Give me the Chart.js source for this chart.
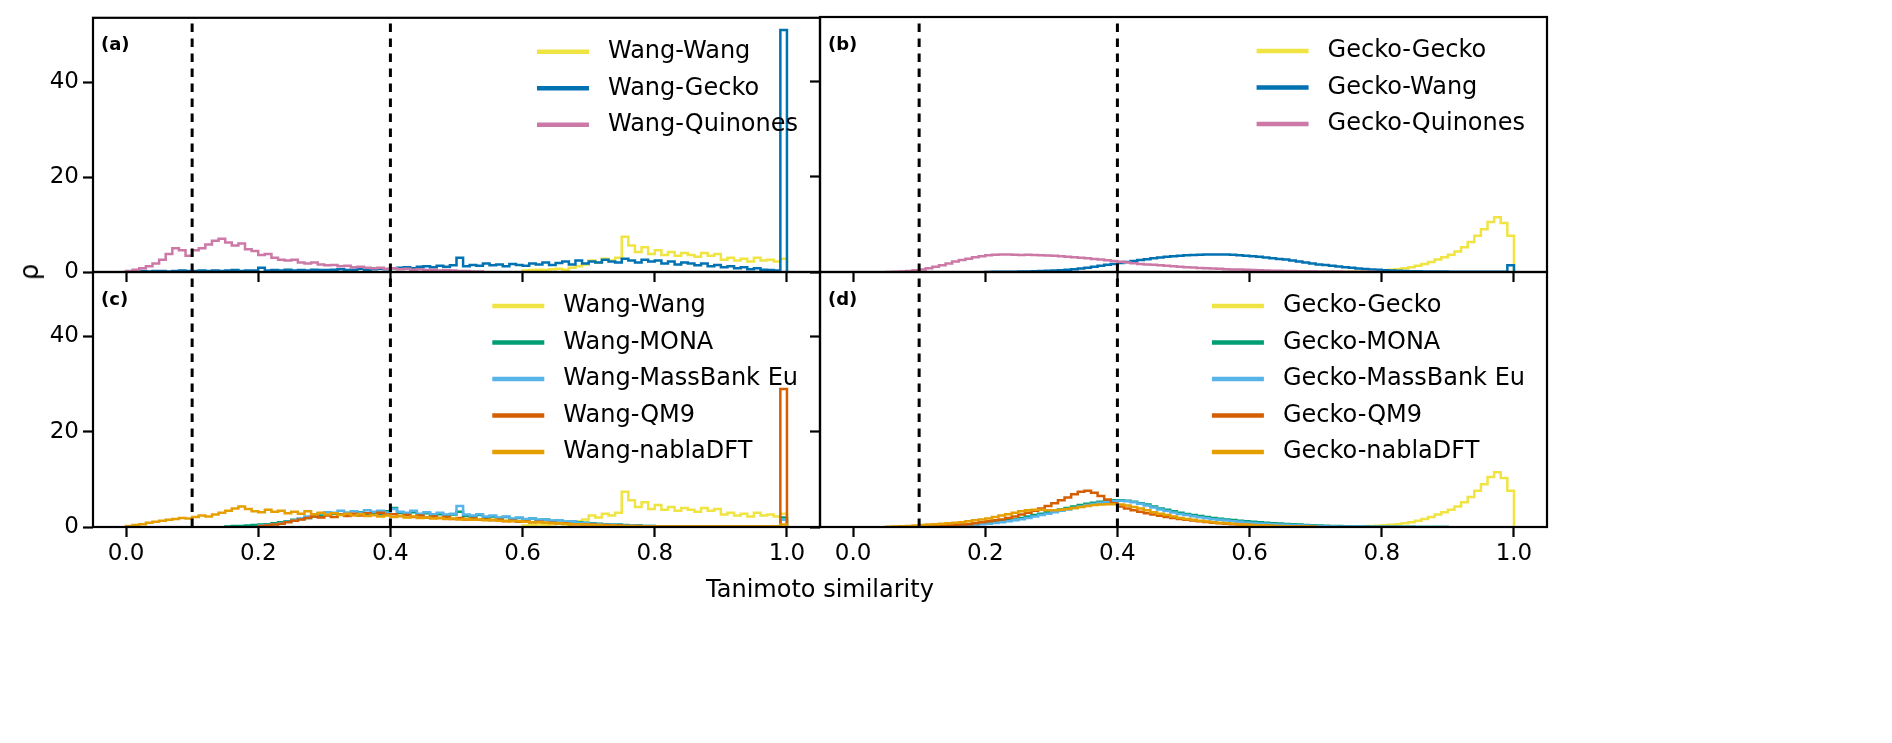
<!DOCTYPE html>
<html>
<head>
<meta charset="utf-8">
<script src="https://cdn.jsdelivr.net/npm/chart.js@4.4.1/dist/chart.umd.min.js"></script>
<style>
  body { margin: 0; background: #fff; }
  #wrap { position: relative; width: 1892px; height: 743px; overflow: hidden; }
  canvas { position: absolute; left: 0; top: 0; }
  .lbl { position: absolute; font-family: 'DejaVu Sans'; color: #000; white-space: nowrap; }
  #xlab { left: 820px; top: 589px; font-size: 24px; transform: translate(-50%, -50%); }
  #ylab { left: 29px; top: 272px; font-size: 26px; transform: translate(-50%, -50%) rotate(-90deg); }
</style>
</head>
<body>
<div id="wrap">
  <canvas id="pa" width="1892" height="743"></canvas>
  <canvas id="pb" width="1892" height="743"></canvas>
  <canvas id="pc" width="1892" height="743"></canvas>
  <canvas id="pd" width="1892" height="743"></canvas>
  <div class="lbl" id="xlab">Tanimoto similarity</div>
  <div class="lbl" id="ylab">ρ</div>
</div>
<script>
// histogram bin width and axis ticks
const BIN = 0.01;
const X_TICKS = [0, 0.2, 0.4, 0.6, 0.8, 1.0];
const Y_TICKS = [0, 20, 40];
const Y_MAX = 53.55;
const GUIDES = [0.1, 0.4];

// bin heights (rho), each list starts at the bin edge given by *_START
const WANG_WANG_START = 0.60;
const wangWang = [
  0.3, 0.4, 0.5, 0.4, 0.6, 0.7, 0.5, 0.9, 1.2, 1.6,
  2.4, 2.0, 2.8, 2.4, 3.0, 7.4, 5.6, 4.2, 5.2, 3.8,
  4.6, 3.6, 4.2, 3.4, 4.0, 3.6, 3.2, 4.0, 3.4, 3.8,
  2.6, 3.0, 2.4, 2.8, 2.2, 3.0, 2.4, 2.6, 2.2, 2.8
];
const WANG_GECKO_START = 0.00;
const wangGecko = [
  0.1, 0.1, 0.2, 0.1, 0.2, 0.2, 0.1, 0.2, 0.3, 0.2,
  0.2, 0.3, 0.2, 0.3, 0.2, 0.3, 0.4, 0.2, 0.3, 0.3,
  0.9, 0.3, 0.4, 0.3, 0.5, 0.3, 0.4, 0.3, 0.5, 0.4,
  0.4, 0.5, 0.6, 0.4, 0.5, 0.7, 0.5, 0.6, 0.7, 0.6,
  0.8, 0.9, 1.0, 0.8, 1.1, 1.2, 1.0, 1.3, 1.1, 1.4,
  3.0, 1.2, 1.5, 1.3, 1.8, 1.4, 1.6, 1.2, 1.7, 1.5,
  1.3, 1.8, 1.6, 2.0, 1.5, 1.9, 2.2, 1.6, 2.4, 1.8,
  2.2, 2.0, 2.6, 2.2, 2.0, 2.8, 2.4, 2.0, 2.6, 2.2,
  2.4, 1.8, 2.2, 1.6, 2.0, 1.8, 1.4, 1.8, 1.2, 1.5,
  1.0, 1.2, 0.8, 1.0, 0.6, 0.8, 0.5, 0.4, 0.3, 51.0
];
const WANG_QUINONES_START = 0.00;
const wangQuinones = [
  0.2, 0.5, 0.8, 1.2, 1.8, 2.6, 3.8, 5.0, 4.6, 3.4,
  4.6, 5.0, 5.8, 6.6, 7.0, 6.2, 5.6, 6.0, 4.8, 4.4,
  3.6, 3.8, 3.0, 2.6, 2.4, 2.6, 2.0, 1.8, 2.0, 1.6,
  1.4, 1.5, 1.2, 1.3, 1.0, 1.1, 0.9, 0.8, 0.9, 0.7,
  0.8, 0.6, 0.7, 0.5, 0.6, 0.4, 0.5, 0.3, 0.4, 0.3,
  0.2, 0.2, 0.1, 0.1
];

const GECKO_GECKO_START = 0.70;
const geckoGecko = [
  0.02, 0.03, 0.04, 0.05, 0.07, 0.09, 0.12, 0.15, 0.2, 0.26,
  0.35, 0.45, 0.6, 0.8, 1.0, 1.3, 1.7, 2.1, 2.6, 3.1,
  3.6, 4.3, 5.2, 6.3, 7.6, 9.0, 10.5, 11.5, 10.3, 7.6
];
const GECKO_WANG_START = 0.20;
const geckoWang = [
  0.02, 0.03, 0.04, 0.05, 0.07, 0.09, 0.12, 0.15, 0.2, 0.25,
  0.3, 0.38, 0.48, 0.6, 0.75, 0.9, 1.1, 1.3, 1.5, 1.7,
  1.9, 2.1, 2.3, 2.5, 2.7, 2.9, 3.05, 3.2, 3.3, 3.4,
  3.5, 3.55, 3.6, 3.65, 3.7, 3.7, 3.65, 3.6, 3.5, 3.4,
  3.3, 3.2, 3.05, 2.9, 2.75, 2.6, 2.4, 2.2, 2.0, 1.8,
  1.6, 1.45, 1.3, 1.15, 1.0, 0.88, 0.76, 0.65, 0.55, 0.46,
  0.38, 0.32, 0.26, 0.22, 0.18, 0.15, 0.12, 0.1, 0.09, 0.08,
  0.07, 0.06, 0.05, 0.05, 0.04, 0.04, 0.03, 0.03, 0.03, 1.4
];
const GECKO_QUINONES_START = 0.05;
const geckoQuinones = [
  0.02, 0.05, 0.1, 0.2, 0.35,
  0.55, 0.8, 1.1, 1.4, 1.8, 2.2, 2.5, 2.8, 3.1, 3.3,
  3.5, 3.6, 3.7, 3.65, 3.6, 3.55, 3.6, 3.55, 3.5, 3.45,
  3.4, 3.3, 3.2, 3.1, 3.0, 2.9, 2.75, 2.6, 2.45, 2.3,
  2.15, 2.0, 1.85, 1.7, 1.6, 1.5, 1.4, 1.3, 1.2, 1.1,
  1.0, 0.92, 0.85, 0.78, 0.72, 0.66, 0.6, 0.55, 0.5, 0.45,
  0.4, 0.36, 0.32, 0.28, 0.25, 0.22, 0.2, 0.18, 0.16, 0.14,
  0.12, 0.1, 0.09, 0.08, 0.07, 0.06, 0.05, 0.04, 0.03, 0.02
];

const WANG_MONA_START = 0.15;
const wangMona = [
  0.1, 0.2, 0.2, 0.3, 0.4,
  0.5, 0.6, 0.8, 1.0, 1.2, 1.5, 1.7, 1.9, 2.2, 2.4,
  2.5, 2.8, 2.6, 3.0, 2.7, 3.1, 2.8, 3.0, 2.7, 3.3,
  4.0, 3.0, 2.8, 3.1, 2.6, 2.9, 2.5, 2.7, 2.3, 2.6,
  3.2, 2.3, 2.2, 2.5, 2.0, 2.2, 1.9, 2.1, 1.7, 1.9,
  1.6, 1.8, 1.5, 1.6, 1.3, 1.4, 1.1, 1.2, 1.0, 0.9,
  0.8, 0.7, 0.6, 0.5, 0.5, 0.4, 0.3, 0.3, 0.2, 0.2,
  0.1, 0.1, 0.1, 0.1, 0.1, 0.1, 0.1, 0.1, 0.1, 0.1,
  0.1, 0.1, 0.1, 0.1, 0.1, 0.1, 0.1, 0.1, 0.1, 2.0
];
const WANG_MASSBANK_START = 0.20;
const wangMassbank = [
  0.3, 0.4, 0.6, 0.8, 1.1, 1.4, 1.8, 2.2, 2.6, 2.9,
  3.1, 3.0, 3.4, 2.9, 3.3, 3.0, 3.5, 3.2, 3.4, 3.1,
  3.8, 3.2, 3.0, 3.4, 2.8, 3.1, 2.7, 3.0, 2.6, 2.8,
  4.4, 2.6, 2.4, 2.7, 2.2, 2.4, 2.0, 2.2, 1.8, 2.0,
  1.7, 1.8, 1.5, 1.6, 1.3, 1.4, 1.1, 1.2, 0.9, 0.8,
  0.7, 0.6, 0.5, 0.5, 0.4, 0.3, 0.3, 0.2, 0.2, 0.2,
  0.1, 0.1, 0.1, 0.1, 0.1, 0.1, 0.1, 0.1, 0.1, 0.1,
  0.1, 0.1, 0.1, 0.1, 0.1, 0.1, 0.1, 0.1, 0.1, 1.5
];
const WANG_QM9_START = 0.20;
const wangQm9 = [
  0.2, 0.3, 0.5, 0.7, 1.0, 1.3, 1.6, 1.9, 2.2, 2.0,
  2.4, 2.1, 2.6, 2.3, 2.8, 2.4, 2.9, 2.5, 3.0, 2.6,
  2.7, 2.3, 2.5, 2.1, 2.4, 2.0, 2.2, 1.9, 2.1, 1.7,
  1.9, 1.6, 1.8, 1.5, 1.6, 1.4, 1.5, 1.2, 1.3, 1.1,
  1.2, 1.0, 1.1, 0.9, 0.9, 0.8, 0.8, 0.6, 0.6, 0.5,
  0.5, 0.4, 0.4, 0.3, 0.3, 0.2, 0.2, 0.2, 0.1, 0.1,
  0.1, 0.1, 0.1, 0.1, 0.1, 0.1, 0.1, 0.1, 0.1, 0.1,
  0.1, 0.1, 0.1, 0.1, 0.1, 0.1, 0.1, 0.1, 0.1, 29.0
];
const WANG_NABLA_START = 0.00;
const wangNabla = [
  0.2, 0.4, 0.6, 0.9, 1.1, 1.3, 1.5, 1.7, 1.9, 1.8,
  2.1, 2.4, 2.2, 2.6, 3.0, 3.4, 3.9, 4.3, 3.8, 3.3,
  3.1, 3.6, 3.2, 3.4, 2.9, 3.2, 2.8, 3.3, 2.7, 3.0,
  2.6, 2.9, 2.5, 2.8, 2.4, 2.7, 2.3, 2.5, 2.2, 2.4,
  2.1, 2.3, 2.0, 2.2, 1.9, 2.0, 1.8, 1.9, 1.7, 1.8,
  1.6, 1.7, 1.5, 1.6, 1.4, 1.5, 1.3, 1.3, 1.2, 1.2,
  1.1, 1.0, 1.0, 0.9, 0.8, 0.8, 0.7, 0.6, 0.6, 0.5,
  0.4, 0.4, 0.3, 0.3, 0.2, 0.2, 0.2, 0.1, 0.1, 0.1,
  0.1, 0.1, 0.1, 0.1, 0.1, 0.1, 0.1, 0.1, 0.1, 0.1,
  0.1, 0.1, 0.1, 0.1, 0.1, 0.1, 0.1, 0.1, 0.1, 0.5
];

const GECKO_MONA_START = 0.10;
const geckoMona = [
  0.05, 0.1, 0.15, 0.2, 0.25, 0.3, 0.4, 0.5, 0.6, 0.7,
  0.85, 1.0, 1.2, 1.4, 1.6, 1.9, 2.2, 2.5, 2.8, 3.1,
  3.4, 3.7, 4.0, 4.3, 4.6, 4.9, 5.1, 5.3, 5.5, 5.6,
  5.6, 5.5, 5.3, 5.0, 4.7, 4.3, 3.9, 3.6, 3.3, 3.0,
  2.75, 2.5, 2.3, 2.1, 1.9, 1.75, 1.6, 1.45, 1.3, 1.2,
  1.1, 1.0, 0.9, 0.8, 0.72, 0.64, 0.56, 0.5, 0.44, 0.38,
  0.32, 0.27, 0.23, 0.19, 0.16, 0.13, 0.11, 0.09, 0.07, 0.06,
  0.05, 0.04, 0.04, 0.03, 0.03, 0.02, 0.02, 0.02, 0.01, 0.01
];
const GECKO_MASSBANK_START = 0.10;
const geckoMassbank = [
  0.05, 0.08, 0.12, 0.16, 0.2, 0.25, 0.32, 0.4, 0.5, 0.6,
  0.7, 0.85, 1.0, 1.2, 1.4, 1.65, 1.9, 2.2, 2.5, 2.8,
  3.1, 3.4, 3.7, 4.0, 4.3, 4.6, 4.85, 5.1, 5.3, 5.45,
  5.5, 5.4, 5.2, 4.9, 4.5, 4.1, 3.7, 3.35, 3.05, 2.75,
  2.5, 2.25, 2.05, 1.85, 1.65, 1.5, 1.35, 1.2, 1.08, 0.96,
  0.86, 0.76, 0.68, 0.6, 0.53, 0.46, 0.4, 0.35, 0.3, 0.26,
  0.22, 0.18, 0.15, 0.13, 0.11, 0.09, 0.08, 0.07, 0.06, 0.05,
  0.04, 0.03, 0.03, 0.02, 0.02, 0.02, 0.01, 0.01, 0.01, 0.01
];
const GECKO_QM9_START = 0.10;
const geckoQm9 = [
  0.05, 0.1, 0.15, 0.2, 0.3, 0.4, 0.5, 0.6, 0.8, 1.0,
  1.2, 1.4, 1.6, 1.9, 2.2, 2.6, 3.0, 3.4, 3.9, 4.4,
  5.0, 5.6, 6.2, 6.9, 7.4, 7.6, 7.2, 6.5, 5.8, 5.0,
  4.3, 3.9, 3.5, 3.2, 2.9, 2.6, 2.35, 2.1, 1.9, 1.7,
  1.5, 1.35, 1.2, 1.05, 0.9, 0.8, 0.7, 0.6, 0.5, 0.42,
  0.35, 0.3, 0.25, 0.2, 0.16, 0.13, 0.1, 0.08, 0.06, 0.05
];
const GECKO_NABLA_START = 0.05;
const geckoNabla = [
  0.05, 0.1, 0.15, 0.2, 0.3,
  0.4, 0.5, 0.6, 0.7, 0.8, 0.9, 1.0, 1.2, 1.4, 1.6,
  1.8, 2.1, 2.4, 2.7, 3.0, 3.3, 3.5, 3.6, 3.6, 3.5,
  3.5, 3.6, 3.8, 4.0, 4.2, 4.4, 4.6, 4.7, 4.8, 4.8,
  4.7, 4.5, 4.2, 3.9, 3.5, 3.1, 2.8, 2.5, 2.2, 1.9,
  1.7, 1.5, 1.3, 1.15, 1.0, 0.9, 0.8, 0.7, 0.6, 0.5,
  0.42, 0.35, 0.3, 0.25, 0.2, 0.16, 0.13, 0.1, 0.08, 0.06
];

const YELLOW = '#F0E442', BLUE = '#0072B2', PINK = '#CC79A7', GREEN = '#009E73',
      SKY = '#56B4E9', VERM = '#D55E00', ORANGE = '#E69F00';

const W = 1892, H = 743, YW = 60, XH = 60;
const FONT = 'DejaVu Sans';

// outline of a step histogram, built from bin heights
function steps(start, heights) {
  const pts = [];
  let x = start;
  pts.push({ x: x, y: 0 });
  heights.forEach(h => {
    pts.push({ x: x, y: h });
    x = Math.round((x + BIN) * 1e6) / 1e6;
    pts.push({ x: x, y: h });
  });
  pts.push({ x: x, y: 0 });
  return pts;
}

const panels = [
  { id: 'pa', tag: '(a)', left: 93, right: 820, top: 17, bottom: 272, xLabels: false, yLabels: true,
    series: [
      { label: 'Wang-Wang', color: YELLOW, start: WANG_WANG_START, values: wangWang },
      { label: 'Wang-Gecko', color: BLUE, start: WANG_GECKO_START, values: wangGecko },
      { label: 'Wang-Quinones', color: PINK, start: WANG_QUINONES_START, values: wangQuinones }
    ] },
  { id: 'pb', tag: '(b)', left: 820, right: 1547, top: 17, bottom: 272, xLabels: false, yLabels: false,
    series: [
      { label: 'Gecko-Gecko', color: YELLOW, start: GECKO_GECKO_START, values: geckoGecko },
      { label: 'Gecko-Wang', color: BLUE, start: GECKO_WANG_START, values: geckoWang },
      { label: 'Gecko-Quinones', color: PINK, start: GECKO_QUINONES_START, values: geckoQuinones }
    ] },
  { id: 'pc', tag: '(c)', left: 93, right: 820, top: 272, bottom: 527, xLabels: true, yLabels: true,
    series: [
      { label: 'Wang-Wang', color: YELLOW, start: WANG_WANG_START, values: wangWang },
      { label: 'Wang-MONA', color: GREEN, start: WANG_MONA_START, values: wangMona },
      { label: 'Wang-MassBank Eu', color: SKY, start: WANG_MASSBANK_START, values: wangMassbank },
      { label: 'Wang-QM9', color: VERM, start: WANG_QM9_START, values: wangQm9 },
      { label: 'Wang-nablaDFT', color: ORANGE, start: WANG_NABLA_START, values: wangNabla }
    ] },
  { id: 'pd', tag: '(d)', left: 820, right: 1547, top: 272, bottom: 527, xLabels: true, yLabels: false,
    series: [
      { label: 'Gecko-Gecko', color: YELLOW, start: GECKO_GECKO_START, values: geckoGecko },
      { label: 'Gecko-MONA', color: GREEN, start: GECKO_MONA_START, values: geckoMona },
      { label: 'Gecko-MassBank Eu', color: SKY, start: GECKO_MASSBANK_START, values: geckoMassbank },
      { label: 'Gecko-QM9', color: VERM, start: GECKO_QM9_START, values: geckoQm9 },
      { label: 'Gecko-nablaDFT', color: ORANGE, start: GECKO_NABLA_START, values: geckoNabla }
    ] }
];

// black frame around each panel
const framePlugin = {
  id: 'frame',
  afterDraw(chart) {
    const { ctx, chartArea: a } = chart;
    ctx.save();
    ctx.strokeStyle = '#000';
    ctx.lineWidth = 2.2;
    ctx.strokeRect(a.left, a.top, a.right - a.left, a.bottom - a.top);
    ctx.restore();
  }
};

// matplotlib-like legend (upper right, no box) and panel tag
const panelLegend = {
  id: 'panelLegend',
  afterDraw(chart, args, opts) {
    const { ctx, chartArea: a } = chart;
    const items = chart.data.datasets.filter(d => !d.guide);
    ctx.save();
    ctx.font = '24px "' + FONT + '"';
    const maxW = Math.max(...items.map(d => ctx.measureText(d.label).width));
    const textX = a.right - 22 - maxW;
    ctx.textBaseline = 'middle';
    ctx.textAlign = 'left';
    items.forEach((d, i) => {
      const y = a.top + 34 + i * 36.5;
      ctx.strokeStyle = d.borderColor;
      ctx.lineWidth = 4.5;
      ctx.lineCap = 'butt';
      ctx.beginPath();
      ctx.moveTo(textX - 19 - 52, y);
      ctx.lineTo(textX - 19, y);
      ctx.stroke();
      ctx.fillStyle = '#000';
      ctx.fillText(d.label, textX, y);
    });
    ctx.font = 'bold 18px "' + FONT + '"';
    ctx.fillText(opts.tag, a.left + 8, a.top + 28);
    ctx.restore();
  }
};

panels.forEach(p => {
  const datasets = p.series.map((s, i) => ({
    label: s.label,
    data: steps(s.start, s.values),
    borderColor: s.color,
    borderWidth: 2.5,
    borderJoinStyle: 'miter',
    pointRadius: 0,
    tension: 0,
    fill: false,
    order: -i
  }));
  GUIDES.forEach(g => datasets.push({
    label: '',
    guide: true,
    data: [{ x: g, y: 0 }, { x: g, y: Y_MAX }],
    borderColor: '#000',
    borderWidth: 3,
    borderDash: [8.5, 6.5],
    pointRadius: 0,
    fill: false,
    order: -100
  }));

  new Chart(document.getElementById(p.id), {
    type: 'line',
    data: { datasets },
    options: {
      responsive: false,
      animation: false,
      events: [],
      layout: { padding: { left: p.left - YW, right: W - p.right, top: p.top, bottom: H - p.bottom - XH } },
      plugins: {
        legend: { display: false },
        tooltip: { enabled: false },
        panelLegend: { tag: p.tag }
      },
      scales: {
        x: {
          type: 'linear',
          min: -0.05,
          max: 1.05,
          afterBuildTicks: s => { s.ticks = X_TICKS.map(v => ({ value: v })); },
          afterFit: s => { s.height = XH; },
          ticks: {
            display: p.xLabels,
            autoSkip: false,
            maxRotation: 0,
            padding: 3,
            color: '#000',
            font: { family: FONT, size: 23 },
            callback: v => Number(v).toFixed(1)
          },
          grid: { drawOnChartArea: false, drawTicks: true, tickLength: 10, tickWidth: 2.2, tickColor: '#000' },
          border: { display: false }
        },
        y: {
          type: 'linear',
          min: 0,
          max: Y_MAX,
          afterBuildTicks: s => { s.ticks = Y_TICKS.map(v => ({ value: v })); },
          afterFit: s => { s.width = YW; },
          ticks: {
            display: p.yLabels,
            autoSkip: false,
            padding: 4,
            color: '#000',
            font: { family: FONT, size: 23 },
            callback: v => String(v)
          },
          grid: { drawOnChartArea: false, drawTicks: true, tickLength: 10, tickWidth: 2.2, tickColor: '#000' },
          border: { display: false }
        }
      }
    },
    plugins: [framePlugin, panelLegend]
  });
});
</script>
</body>
</html>
